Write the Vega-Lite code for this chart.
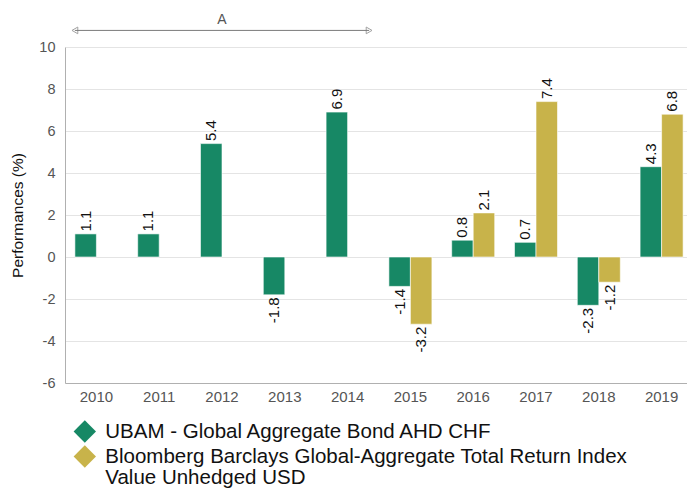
{
  "$schema": "https://vega.github.io/schema/vega-lite/v6.json",
  "autosize": {"type": "none"},
  "padding": {"left": 65, "top": 47, "right": 0, "bottom": 106},
  "width": 622,
  "height": 336,
  "config": {
    "font": "Liberation Sans",
    "view": {"stroke": null},
    "locale": {"number": {"decimal": ".", "thousands": ",", "grouping": [3], "currency": ["$", ""], "minus": "-"}},
    "style": {"guide-label": {"dy": 6.7, "lineHeight": 20.5}}
  },
  "datasets": {
    "perf": [
      {"year": "2010", "series": "UBAM - Global Aggregate Bond AHD CHF", "value": 1.1},
      {"year": "2011", "series": "UBAM - Global Aggregate Bond AHD CHF", "value": 1.1},
      {"year": "2012", "series": "UBAM - Global Aggregate Bond AHD CHF", "value": 5.4},
      {"year": "2013", "series": "UBAM - Global Aggregate Bond AHD CHF", "value": -1.8},
      {"year": "2014", "series": "UBAM - Global Aggregate Bond AHD CHF", "value": 6.9},
      {"year": "2015", "series": "UBAM - Global Aggregate Bond AHD CHF", "value": -1.4},
      {"year": "2015", "series": "Bloomberg Barclays Global-Aggregate Total Return Index Value Unhedged USD", "value": -3.2},
      {"year": "2016", "series": "UBAM - Global Aggregate Bond AHD CHF", "value": 0.8},
      {"year": "2016", "series": "Bloomberg Barclays Global-Aggregate Total Return Index Value Unhedged USD", "value": 2.1},
      {"year": "2017", "series": "UBAM - Global Aggregate Bond AHD CHF", "value": 0.7},
      {"year": "2017", "series": "Bloomberg Barclays Global-Aggregate Total Return Index Value Unhedged USD", "value": 7.4},
      {"year": "2018", "series": "UBAM - Global Aggregate Bond AHD CHF", "value": -2.3},
      {"year": "2018", "series": "Bloomberg Barclays Global-Aggregate Total Return Index Value Unhedged USD", "value": -1.2},
      {"year": "2019", "series": "UBAM - Global Aggregate Bond AHD CHF", "value": 4.3},
      {"year": "2019", "series": "Bloomberg Barclays Global-Aggregate Total Return Index Value Unhedged USD", "value": 6.8}
    ],
    "annot": [
      {"start": "2010", "end": "2014", "mid": "2012", "arrowY": 10.79, "labelY": 11.27, "label": "A"}
    ]
  },
  "encoding": {
    "x": {
      "field": "year", "type": "ordinal",
      "scale": {"domain": ["2010","2011","2012","2013","2014","2015","2016","2017","2018","2019"], "range": [0, 628], "paddingInner": 0.315, "paddingOuter": 0.1575},
      "axis": {"title": null, "labelAngle": 0, "ticks": false, "domainColor": "#b0b0b0", "labelColor": "#555555", "labelFontSize": 15, "labelPadding": -0.7}
    },
    "y": {
      "type": "quantitative",
      "scale": {"domain": [-6, 10], "nice": false, "zero": false},
      "axis": {"title": "Performances (%)", "values": [-6,-4,-2,0,2,4,6,8,10], "ticks": false, "domainColor": "#b0b0b0", "gridColor": "#e4e4e4", "labelColor": "#555555", "labelFontSize": 14.5, "labelPadding": 10, "labelOffset": -6.7, "titleFontSize": 15.5, "titleFontWeight": "normal", "titleColor": "#111111", "titlePadding": 13}
    }
  },
  "layer": [
    {
      "data": {"name": "perf"},
      "mark": {"type": "bar", "stroke": "#ffffff", "strokeWidth": 0.6},
      "encoding": {
        "y": {"field": "value"},
        "xOffset": {"field": "series", "type": "nominal", "scale": {"domain": ["UBAM - Global Aggregate Bond AHD CHF", "Bloomberg Barclays Global-Aggregate Total Return Index Value Unhedged USD"], "paddingInner": 0, "paddingOuter": 0}},
        "color": {
          "field": "series", "type": "nominal",
          "scale": {"domain": ["UBAM - Global Aggregate Bond AHD CHF", "Bloomberg Barclays Global-Aggregate Total Return Index Value Unhedged USD"], "range": ["#178865", "#C8B34A"]},
          "legend": {
            "title": null, "orient": "none", "legendX": 8.3, "legendY": 373,
            "symbolType": "diamond", "symbolSize": 500, "symbolStrokeWidth": 0,
            "labelFontSize": 20.5, "labelColor": "#111111", "labelLimit": 620,
            "labelExpr": "datum.label == 'Bloomberg Barclays Global-Aggregate Total Return Index Value Unhedged USD' ? ['Bloomberg Barclays Global-Aggregate Total Return Index', 'Value Unhedged USD'] : datum.label",
            "labelBaseline": "alphabetic", "labelOffset": 9, "rowPadding": 2
          }
        }
      }
    },
    {
      "data": {"name": "perf"},
      "mark": {
        "type": "text", "angle": 270, "fontSize": 15, "color": "#111111", "baseline": "middle",
        "align": {"expr": "datum.value >= 0 ? 'left' : 'right'"},
        "dx": {"expr": "datum.value >= 0 ? 2.5 : -2.5"}
      },
      "encoding": {
        "y": {"field": "value"},
        "xOffset": {"field": "series", "type": "nominal"},
        "text": {"field": "value", "type": "quantitative", "format": ".1f"}
      }
    },
    {
      "data": {"name": "annot"},
      "mark": {"type": "rule", "color": "#7a7a7a", "strokeWidth": 1},
      "encoding": {
        "x": {"field": "start", "type": "ordinal", "bandPosition": 0},
        "x2": {"field": "end", "bandPosition": 1},
        "y": {"field": "arrowY"}
      }
    },
    {
      "data": {"name": "annot"},
      "mark": {"type": "point", "shape": "triangle-left", "filled": false, "color": "#7a7a7a", "size": 45, "strokeWidth": 1},
      "encoding": {
        "x": {"field": "start", "type": "ordinal", "bandPosition": 0},
        "y": {"field": "arrowY"}
      }
    },
    {
      "data": {"name": "annot"},
      "mark": {"type": "point", "shape": "triangle-right", "filled": false, "color": "#7a7a7a", "size": 45, "strokeWidth": 1},
      "encoding": {
        "x": {"field": "end", "type": "ordinal", "bandPosition": 1},
        "y": {"field": "arrowY"}
      }
    },
    {
      "data": {"name": "annot"},
      "mark": {"type": "text", "fontSize": 14, "color": "#555555", "baseline": "middle"},
      "encoding": {
        "x": {"field": "mid", "type": "ordinal"},
        "y": {"field": "labelY"},
        "text": {"field": "label"}
      }
    }
  ]
}
